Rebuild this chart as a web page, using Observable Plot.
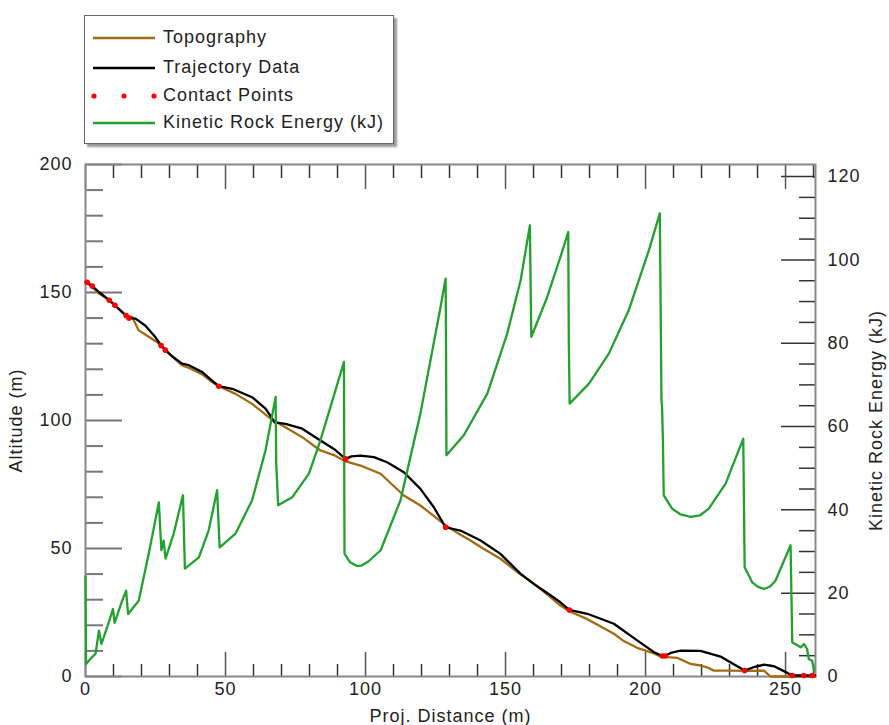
<!DOCTYPE html>
<html>
<head>
<meta charset="utf-8">
<script src="https://cdn.jsdelivr.net/npm/d3@7"></script>
<script src="https://cdn.jsdelivr.net/npm/@observablehq/plot@0.6"></script>
<style>
  body { margin: 0; background: #fff; font-family: "Liberation Sans", Arial, sans-serif; }
  #legend { position: relative; width: 889px; height: 150px; }
  #legend .box { position: absolute; left: 84px; top: 15px; width: 308px; height: 127px;
    border: 1.5px solid #666; box-shadow: 3px 3px 2px #999; background: #fff; }
  #legend .row { position: absolute; left: 0; height: 24px; }
  #legend .row svg { position: absolute; left: 6px; top: 7px; }
  #legend .row span { position: absolute; left: 78px; top: 1px; font-size: 18px; letter-spacing: 1px; color: #222; white-space: nowrap; }
  #chart svg text { letter-spacing: 1px; }
</style>
</head>
<body>
<div id="legend"></div>
<div id="chart"></div>
<script>
// ---- data ----
const topoX = [0, 2, 5, 8.5, 10.5, 14.5, 16.7, 19, 20.8, 25.6, 27, 28.6, 32, 34.5, 37, 41.7, 45.2, 47.6, 53.6, 59.5, 66.1, 71.4, 77.4, 83.9, 88.7, 92.9, 98.2, 105.4, 109, 113.7, 119.6, 124, 128.6, 133, 137.5, 142, 148.2, 154, 160.1, 165, 169.6, 172.8, 179.2, 184, 188.7, 192, 197, 203, 205.4, 211.3, 216.1, 219.6, 222, 224.4, 230, 236, 242.3, 244.6, 260.7];
const topoY = [154, 152.5, 149.5, 147, 145, 141, 140.4, 135.2, 134, 130.6, 129.3, 127.3, 124, 121.5, 120.5, 118, 115, 113.4, 110.4, 106.5, 100.7, 97.4, 93.5, 88.3, 86.5, 84, 82.4, 79.2, 75.5, 70.7, 66.8, 63, 59, 56, 53.1, 50, 46, 41, 36.2, 32, 27.7, 25.5, 22.4, 19.5, 16.7, 14, 11.2, 9, 7.8, 7.3, 4.9, 4.3, 3.6, 2.3, 2.3, 2.2, 2.3, 0, 0];

const trajX = [0.6, 2.4, 5, 8.5, 10.5, 14.5, 15.5, 17.9, 21.4, 25, 27, 28.6, 31, 34.5, 36.9, 41.7, 45.2, 47.6, 52.4, 59.5, 64.3, 66.7, 67.5, 71.4, 77.4, 83.9, 88.7, 92.9, 95, 98.2, 103, 107.7, 113.7, 119.6, 124.4, 128.6, 133.9, 141.1, 148.2, 155.4, 160.1, 165, 169.6, 172.8, 179.2, 188.7, 197, 203, 206.5, 209, 212.5, 219.6, 226.8, 229.2, 235.4, 239, 242.3, 245.9, 249.4, 252.4, 260.5];
const trajY = [154, 152.5, 150, 147, 145, 141, 140, 139.8, 137, 132.5, 129.3, 127.5, 125, 122.2, 121.6, 118.9, 115.6, 113.4, 112.4, 109.1, 104.6, 100.7, 99.3, 98.7, 96.8, 92.2, 88.9, 85, 86, 86.3, 85.7, 83.7, 79.8, 73.3, 66.1, 58.3, 57, 53.1, 47.9, 40.1, 36.2, 32.5, 29, 26, 24.5, 20.6, 14.1, 9.5, 7.8, 9.2, 10.1, 10, 7.8, 6.25, 2.3, 3.8, 4.6, 4.0, 2.1, 0.4, 0.4];

const contactX = [0.6, 2.4, 8.5, 10.5, 14.5, 15.5, 27, 28.5, 47.6, 92.9, 128.6, 172.8, 206, 207, 235.4, 252.4, 256.5, 259.5];
const contactY = [154, 152.5, 147, 145, 141, 140, 129.3, 127.5, 113.4, 85, 58.3, 26, 8, 8, 2.3, 0.4, 0.4, 0.4];

const energyX = [0, 0.2, 1.5, 3.6, 4.8, 5.7, 8.3, 9.8, 10.4, 13.1, 14.5, 15.2, 19, 22.6, 26.2, 27.1, 27.9, 28.6, 31.5, 34.8, 35.5, 40.5, 44, 47, 47.9, 53.6, 59.5, 64.3, 67.9, 68.1, 68.8, 73.8, 79.8, 83.9, 85.7, 92.3, 92.5, 94.5, 97, 98.8, 101, 105.4, 112.5, 119.6, 126.8, 128.6, 128.7, 128.9, 135.1, 143.5, 150.6, 155.4, 158.7, 159.2, 164.9, 169.6, 172.4, 172.6, 172.9, 179.8, 186.9, 194, 201.2, 205.1, 205.7, 205.9, 206.2, 206.5, 209.5, 212.5, 216.1, 219.5, 222.6, 228.6, 234.9, 235.4, 238.1, 240.2, 242.3, 244.5, 246.4, 251.8, 252.4, 255.4, 256.6, 257.7, 258.3, 259.5, 260.2];
const energyE = [24, 3, 4, 5.5, 11, 7.8, 13, 16.2, 12.9, 18.2, 20.6, 15, 18.2, 29.5, 41.8, 30.3, 32.6, 28.3, 34.3, 43.5, 25.9, 28.6, 35.1, 44.7, 31, 34.3, 42.3, 54.3, 67.1, 51.4, 41.1, 43, 48.7, 56.7, 60.7, 75.5, 29.5, 27.4, 26.5, 26.7, 27.6, 30.3, 42.3, 63.1, 88.7, 95.5, 87.6, 53.1, 57.9, 67.9, 82.3, 95.1, 108.3, 81.5, 91.1, 100.7, 106.7, 80.7, 65.5, 70.3, 77.5, 87.9, 102.3, 111.2, 66.3, 64.8, 57.1, 43.5, 40.3, 38.9, 38.3, 38.7, 40.3, 46.3, 57.1, 26.2, 22.6, 21.5, 21, 21.6, 23, 31.5, 8.2, 7, 7.8, 6.6, 4.2, 3.8, 1.4];

const xTicks = [0, 50, 100, 150, 200, 250];
const yTicks = [0, 50, 100, 150, 200];
const eTicks = [0, 20, 40, 60, 80, 100, 120];
const seriesNames = ["Topography", "Trajectory Data", "Contact Points", "Kinetic Rock Energy (kJ)"];
const colors = { topo: "#a36a14", traj: "#000000", contact: "#ff0000", energy: "#22a12e" };

// ---- scales config ----
const xMax = 260.7, yMax = 200, eMax = 122.9;
const k = yMax / eMax; // energy -> altitude-axis units

const topo = topoX.map((x, i) => ({x, y: topoY[i]}));
const traj = trajX.map((x, i) => ({x, y: trajY[i]}));
const contacts = contactX.map((x, i) => ({x, y: contactY[i]}));
const energy = energyX.map((x, i) => ({x, y: energyE[i] * k}));

const range = (a, b, s) => d3.range(a, b + 1e-9, s);
const xMinor = range(0, 260, 10).filter(d => d % 50 !== 0);
const yMinor = range(0, 200, 10).filter(d => d % 50 !== 0);
const eMinorT = range(0, 120, 5).filter(d => d % 20 !== 0).map(d => d * k);
const eMajorT = eTicks.map(d => d * k);
const blank = () => "";

const plot = Plot.plot({
  width: 889, height: 575,
  marginTop: 14, marginBottom: 49, marginLeft: 85, marginRight: 74,
  style: { fontFamily: "Liberation Sans, Arial, sans-serif", fontSize: "18px", color: "#222", background: "#fff" },
  x: { domain: [0, xMax] },
  y: { domain: [0, yMax] },
  marks: [
    // inward ticks
    Plot.axisY({ anchor: "left", ticks: yMinor, tickSize: -18, tickFormat: blank, label: null, stroke: "#777", strokeWidth: 2 }),
    Plot.axisY({ anchor: "left", ticks: yTicks, tickSize: -37, tickFormat: blank, label: null, stroke: "#777", strokeWidth: 2 }),
    Plot.axisY({ anchor: "right", ticks: eMinorT, tickSize: -17, tickFormat: blank, label: null, stroke: "#333", strokeWidth: 1.5 }),
    Plot.axisY({ anchor: "right", ticks: eMajorT, tickSize: -35, tickFormat: blank, label: null, stroke: "#333", strokeWidth: 1.5 }),
    Plot.axisX({ anchor: "bottom", ticks: xMinor, tickSize: -12, tickFormat: blank, label: null, stroke: "#333", strokeWidth: 1.5 }),
    Plot.axisX({ anchor: "bottom", ticks: xTicks, tickSize: -24, tickFormat: blank, label: null, stroke: "#555", strokeWidth: 1.5 }),
    Plot.axisX({ anchor: "top", ticks: xMinor, tickSize: -13, tickFormat: blank, label: null, stroke: "#333", strokeWidth: 1.5 }),
    Plot.axisX({ anchor: "top", ticks: xTicks, tickSize: -24, tickFormat: blank, label: null, stroke: "#555", strokeWidth: 1.5 }),
    // tick labels + axis titles
    Plot.axisY({ anchor: "left", ticks: yTicks, tickSize: 0, tickPadding: 13, label: "Altitude (m)", labelAnchor: "center", labelOffset: 76, labelArrow: "none" }),
    Plot.axisY({ anchor: "right", ticks: eMajorT, tickSize: 0, tickPadding: 12, tickFormat: d => String(Math.round(d / k)), label: "Kinetic Rock Energy (kJ)", labelAnchor: "center", labelOffset: 66, labelArrow: "none" }),
    Plot.axisX({ anchor: "bottom", ticks: xTicks, tickSize: 0, tickPadding: 6, label: "Proj. Distance (m)", labelAnchor: "center", labelOffset: 45, labelArrow: "none" }),
    Plot.frame({ stroke: "#888", strokeWidth: 2 }),
    // data
    Plot.line(topo, { x: "x", y: "y", stroke: colors.topo, strokeWidth: 2.3 }),
    Plot.line(traj, { x: "x", y: "y", stroke: colors.traj, strokeWidth: 2.3 }),
    Plot.line(energy, { x: "x", y: "y", stroke: colors.energy, strokeWidth: 2.3, curve: "linear" }),
    Plot.dot(contacts, { x: "x", y: "y", r: 2.8, fill: colors.contact, stroke: "none" })
  ]
});
document.getElementById("chart").appendChild(plot);

// ---- legend ----
const legend = document.getElementById("legend");
const box = document.createElement("div");
box.className = "box";
legend.appendChild(box);
const rowTops = [10, 40, 68, 95];
const swatches = [
  `<svg width="66" height="10"><line x1="2" y1="5" x2="64" y2="5" stroke="${colors.topo}" stroke-width="2.5"/></svg>`,
  `<svg width="66" height="10"><line x1="2" y1="5" x2="64" y2="5" stroke="${colors.traj}" stroke-width="2.5"/></svg>`,
  `<svg width="66" height="10"><circle cx="3" cy="5" r="2.6" fill="${colors.contact}"/><circle cx="33" cy="5" r="2.6" fill="${colors.contact}"/><circle cx="63" cy="5" r="2.6" fill="${colors.contact}"/></svg>`,
  `<svg width="66" height="10"><line x1="2" y1="5" x2="64" y2="5" stroke="${colors.energy}" stroke-width="2.5"/></svg>`
];
seriesNames.forEach((name, i) => {
  const row = document.createElement("div");
  row.className = "row";
  row.style.top = rowTops[i] + "px";
  row.innerHTML = swatches[i] + `<span>${name}</span>`;
  box.appendChild(row);
});
</script>
</body>
</html>
